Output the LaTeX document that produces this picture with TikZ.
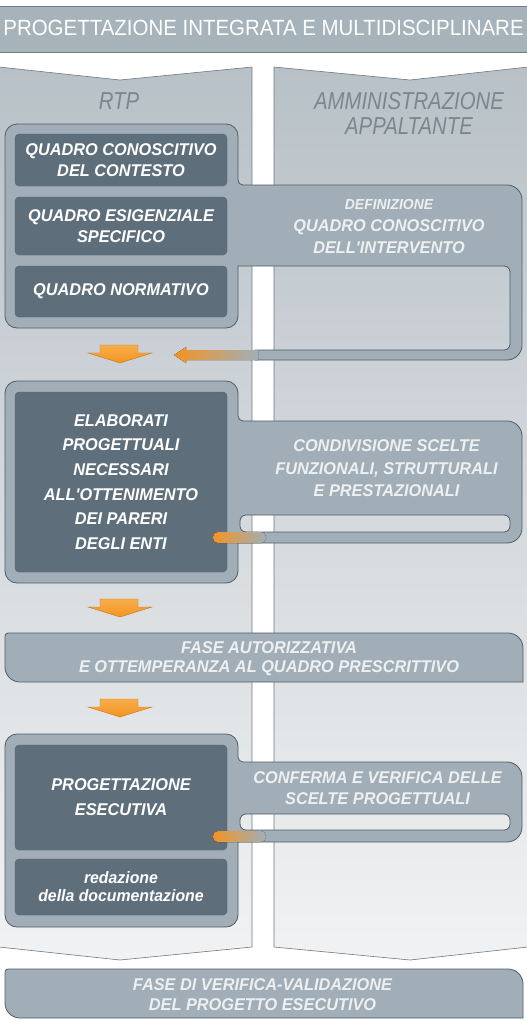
\documentclass[tikz,border=0pt]{standalone}
\usepackage{fontspec}
\setmainfont{Liberation Sans}
\newfontfamily\narrowfont[FakeStretch=0.83]{Liberation Sans}
\newfontfamily\headfont[FakeStretch=0.93]{Liberation Sans}
\newfontfamily\boxfont[FakeStretch=0.96]{Liberation Sans}

\definecolor{headfill}{HTML}{A6B3BB}
\definecolor{headline}{HTML}{6F7C85}
\definecolor{colline}{HTML}{6D7880}
\definecolor{coltop}{HTML}{B8C1C7}
\definecolor{colbot}{HTML}{F1F2F3}
\definecolor{blockfill}{HTML}{A1AEB7}
\definecolor{blockline}{HTML}{505D66}
\definecolor{slate}{HTML}{5E6F7B}
\definecolor{titlegrey}{HTML}{7B868E}
\definecolor{paletext}{HTML}{EDF0F2}
\definecolor{arrorange}{HTML}{F39424}
\definecolor{arrlight}{HTML}{F8AE4A}
\definecolor{orangeline}{HTML}{C9761A}

\begin{document}
\begin{tikzpicture}[x=1pt,y=-1pt,
  column/.style={draw=colline,line width=0.6pt,top color=coltop,bottom color=colbot},
  block/.style={draw=blockline,line width=0.8pt,fill=blockfill,even odd rule},
  phase/.style={draw=blockline,line width=0.8pt,fill=blockfill},
  slatebox/.style={draw=slate!85!black,line width=0.3pt,fill=slate,rounded corners=4pt,
    minimum width=212pt,text=white,align=center,
    font=\boxfont\bfseries\itshape\fontsize{17}{#1}\selectfont},
  slatebox/.default=21,
  tabtext/.style={text=paletext,align=center,font=\boxfont\bfseries\itshape\fontsize{17}{#1}\selectfont},
  tabtext/.default=22,
  coltitle/.style={text=titlegrey,align=center,font=\narrowfont\itshape\fontsize{24.5}{25}\selectfont},
  downarrow/.style={draw=orangeline,line width=0.4pt,top color=arrlight,bottom color=arrorange},
  orangebar/.style={left color=arrorange,middle color=arrorange!75!blockfill,right color=blockfill}]
\useasboundingbox (0,0) rectangle (527,1021);

% the two lanes
\path[column] (-1,67) -- (120,80) -- (252,67) -- (252,947) -- (120,960) -- (-1,947) -- cycle;
\path[column] (274,67) -- (410,80) -- (528,67) -- (528,947) -- (410,960) -- (274,947) -- cycle;

% title band
\path[draw=headline,fill=headfill] (-1,6) rectangle (528,52);
\node[text=white,font=\headfont\fontsize{22}{24}\selectfont] (head) at (263.5,28.4) {PROGETTAZIONE INTEGRATA E MULTIDISCIPLINARE};

\node[coltitle] (rtp) at (119,101) {RTP};
\node[coltitle] (adm) at (409,113.5) {AMMINISTRAZIONE\\APPALTANTE};

% first block
\path[block] (17,124) -- (226,124) arc(90:0:12pt) -- (238,180) arc(180:270:5pt) -- (507,185) arc(90:0:15pt)
  -- (522,345) arc(0:-90:15pt) -- (255,360) -- (255,350) -- (504,350) arc(-90:0:6pt) -- (510,272) arc(0:90:6pt)
  -- (238,266) -- (238,316) arc(0:-90:12pt) -- (17,328) arc(270:180:12pt) -- (5,136) arc(180:90:12pt) -- cycle;
\node[slatebox,minimum height=52pt] (ctx) at (121,160) {QUADRO CONOSCITIVO\\DEL CONTESTO};
\node[slatebox,minimum height=58pt] (req) at (121,226) {QUADRO ESIGENZIALE\\SPECIFICO};
\node[slatebox,minimum height=51pt] (norm) at (121,291.5) {QUADRO NORMATIVO};
\node[tabtext] (def) at (389,227) {{\fontsize{14.5}{22}\selectfont DEFINIZIONE}\\QUADRO CONOSCITIVO\\DELL'INTERVENTO};
\fill[orangebar] (258,350) -- (186,350) -- (186,347) -- (174,355) -- (186,363) -- (186,360) -- (258,360) -- cycle;

\foreach \y in {345,599,699}
  \path[downarrow] (100,\y) -- (138,\y) -- (138,\y+8) -- (152,\y+8) -- (120,\y+18) -- (88,\y+8) -- (100,\y+8) -- cycle;

% second block
\path[block] (17,381) -- (226,381) arc(90:0:12pt) -- (238,416) arc(180:270:5pt) -- (507,421) arc(90:0:15pt)
  -- (522,528) arc(0:-90:15pt) -- (238,543) -- (238,571) arc(0:-90:12pt) -- (17,583) arc(270:180:12pt)
  -- (5,393) arc(180:90:12pt) -- cycle
  (246,515) -- (504,515) arc(90:0:6pt) -- (510,526) arc(0:-90:6pt) -- (246,532) arc(270:180:6pt) -- (240,521) arc(180:90:6pt) -- cycle;
\node[slatebox=24.6,minimum height=180pt] (elab) at (121,482) {ELABORATI\\PROGETTUALI\\NECESSARI\\ALL'OTTENIMENTO\\DEI PARERI\\DEGLI ENTI};
\node[tabtext=22.5] (share) at (386.5,468.4) {CONDIVISIONE SCELTE\\FUNZIONALI, STRUTTURALI\\E PRESTAZIONALI};
\fill[orangebar,rounded corners=5pt] (213,532) rectangle (266,543);

\path[phase] (8,633) -- (508,633) arc(90:0:15pt) -- (523,682) -- (20,682) arc(270:180:15pt) -- (5,636) arc(180:90:3pt) -- cycle;
\node[tabtext=19] (auth) at (269,658.4) {FASE AUTORIZZATIVA\\E OTTEMPERANZA AL QUADRO PRESCRITTIVO};

% third block
\path[block] (17,734) -- (226,734) arc(90:0:12pt) -- (238,757) arc(180:270:5pt) -- (507,762) arc(90:0:15pt)
  -- (522,827) arc(0:-90:15pt) -- (238,842) -- (238,915) arc(0:-90:12pt) -- (17,927) arc(270:180:12pt)
  -- (5,746) arc(180:90:12pt) -- cycle
  (246,814) -- (504,814) arc(90:0:6pt) -- (510,824) arc(0:-90:6pt) -- (246,830) arc(270:180:6pt) -- (240,820) arc(180:90:6pt) -- cycle;
\node[slatebox=25,minimum height=105pt] (exec) at (121,797.5) {PROGETTAZIONE\\ESECUTIVA};
\node[slatebox,minimum height=56pt,font=\boxfont\bfseries\itshape\fontsize{16.5}{18}\selectfont] (docs) at (121,887) {redazione\\della documentazione};
\node[tabtext=21] (conf) at (377.5,788.4) {CONFERMA E VERIFICA DELLE\\SCELTE PROGETTUALI};
\fill[orangebar,rounded corners=5pt] (213,831) rectangle (266,842);

\path[phase] (8,969) -- (508,969) arc(90:0:15pt) -- (523,1018) -- (20,1018) arc(270:180:15pt) -- (5,972) arc(180:90:3pt) -- cycle;
\node[tabtext=20] (valid) at (262.5,994.5) {FASE DI VERIFICA-VALIDAZIONE\\DEL PROGETTO ESECUTIVO};
\end{tikzpicture}
\end{document}
